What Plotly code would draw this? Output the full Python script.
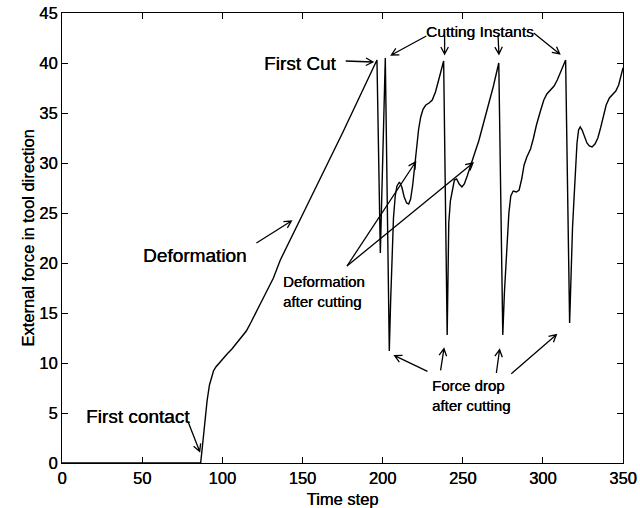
import math
import plotly.graph_objects as go

# Force record along the tool axis (time step vs. external force)
time_step = [0, 86.5, 87.5, 89, 90.5, 92, 93.3, 94.5, 96, 98, 100.5, 103, 106, 109, 112,
             115, 118, 121, 124, 131.9, 136.2, 152.7, 175, 196.5,
             198.6, 201.7,
             204.2, 205.0, 205.9, 206.8, 207.9, 209.0, 210.5, 212, 213.5, 215, 216.3,
             217.5, 218.8, 220.0, 221.2, 222.5, 223.8, 225.3, 227.0, 229, 231, 233,
             235, 236.7, 238.1,
             240.3, 240.8, 241.3, 242.3, 243.5, 244.8, 246.2, 247.8, 249.5, 251, 252.8,
             255, 257.5, 260, 263, 266, 269, 272.5,
             275.0, 276, 277.5, 278.8, 280, 281.5, 283.5, 285.2, 286.8, 288.3, 290,
             292.3, 294, 296, 298.5, 300.6, 302.5, 305, 307, 309, 311.5, 314.2,
             316.7, 317.6, 318.5, 319.4, 320.3, 321.3, 322.3, 323.3, 324.5, 326, 327.5,
             329, 330.7, 332.5, 334.3, 336, 337.8, 339.5, 341.5, 343.5, 345.5, 347.3,
             348.8, 350]
force = [0, 0, 1.5, 4.0, 6.2, 7.8, 8.7, 9.2, 9.6, 10.0, 10.5, 10.9, 11.4, 12.0, 12.5,
         13.2, 14.1, 15.0, 16.0, 18.5, 20.3, 25.7, 33.0, 40.3,
         21.0, 40.5,
         11.2, 16.0, 21.0, 24.5, 26.7, 27.7, 28.1, 27.6, 26.6, 26.0, 25.9,
         26.4, 27.8, 29.6, 31.6, 33.4, 34.6, 35.4, 35.8, 36.0, 36.3, 37.1,
         38.3, 39.4, 40.2,
         12.8, 19.0, 24.0, 26.2, 27.4, 28.3, 28.4, 27.9, 27.6, 27.9, 28.7,
         29.7, 31.0, 32.2, 34.0, 35.6, 37.6, 40.0,
         12.8, 17.0, 22.0, 25.0, 26.7, 27.2, 27.1, 27.3, 28.4, 29.8, 30.6,
         31.4, 32.4, 33.8, 35.2, 36.3, 36.9, 37.3, 37.7, 38.3, 39.2, 40.3,
         14.0, 19.5, 23.5, 26.3, 29.5, 32.0, 33.3, 33.6, 33.3, 32.6, 32.0,
         31.7, 31.6, 31.9, 32.5, 33.5, 34.8, 35.8, 36.5, 36.9, 37.2, 37.8,
         38.7, 39.5]

x_ticks = [0, 50, 100, 150, 200, 250, 300, 350]
y_ticks = [0, 5, 10, 15, 20, 25, 30, 35, 40, 45]

# Annotation arrows: (tail_x, tail_y, tip_x, tip_y)
arrows = [
    (177.0, 40.2, 194.0, 40.1),      # First Cut
    (227.3, 42.7, 205.5, 40.8),      # Cutting instants
    (238.7, 42.7, 238.7, 40.9),
    (272.0, 42.8, 272.6, 40.9),
    (294.3, 43.0, 310.5, 40.9),
    (121.3, 22.0, 143.1, 24.2),      # Deformation
    (177.8, 19.7, 220.6, 30.1),      # Deformation after cutting
    (177.8, 19.7, 256.4, 30.0),
    (228.0, 9.16, 207.5, 10.73),     # Force drop after cutting
    (236.2, 9.26, 238.3, 11.43),
    (271.0, 9.0, 273.0, 11.33),
    (280.3, 8.93, 308.4, 12.83),
    (78.6, 4.16, 85.9, 1.16),        # First contact
]

W, H = 640, 508
ML, MR, MT, MB = 62, 17, 13, 45
X_RANGE = (0, 350)
Y_RANGE = (0, 45)
sx = (W - ML - MR) / (X_RANGE[1] - X_RANGE[0])
sy = (H - MT - MB) / (Y_RANGE[1] - Y_RANGE[0])

FONT = "Liberation Sans, Arial, sans-serif"
INK = "0.35px 0px 0px black"   # slight thickening of the printed lettering


def font(size):
    return dict(family=FONT, size=size, color="black", shadow=INK)


def arrow_path(tx, ty, px, py, head=8.0, ang=28):
    # work in screen pixels so the open head keeps its shape
    dx = (tx - px) * sx
    dy = (ty - py) * sy
    d = math.hypot(dx, dy)
    ux, uy = dx / d, dy / d
    pts = []
    for s in (1, -1):
        a = math.radians(ang) * s
        rx = ux * math.cos(a) - uy * math.sin(a)
        ry = ux * math.sin(a) + uy * math.cos(a)
        pts.append((px + rx * head / sx, py + ry * head / sy))
    (h1x, h1y), (h2x, h2y) = pts
    return (f"M {tx},{ty} L {px},{py} M {h1x},{h1y} L {px},{py} L {h2x},{h2y}")


fig = go.Figure()
fig.add_trace(go.Scatter(x=time_step, y=force, mode="lines",
                         line=dict(color="black", width=1.4),
                         showlegend=False, hoverinfo="skip"))

shapes = [dict(type="path", path=arrow_path(*a), xref="x", yref="y",
               line=dict(color="black", width=1.3), layer="above") for a in arrows]

labels = [
    dict(text="First Cut", x=148.6, y=40.0, size=19, xanchor="center", align="center"),
    dict(text="Cutting Instants", x=261.0, y=43.2, size=15.5, xanchor="center", align="center"),
    dict(text="Deformation", x=82.8, y=20.8, size=19, xanchor="center", align="center"),
    dict(text="First contact", x=47.2, y=4.7, size=19, xanchor="center", align="center"),
    dict(text="Deformation<br>after cutting", x=136.5, y=17.2, size=15, xanchor="left", align="left"),
    dict(text="Force drop<br>after cutting", x=229.8, y=6.8, size=15, xanchor="left", align="left"),
]
annotations = [dict(text=l["text"], x=l["x"], y=l["y"], xref="x", yref="y",
                    showarrow=False, xanchor=l["xanchor"], yanchor="middle",
                    align=l["align"], font=font(l["size"]))
               for l in labels]

axis_common = dict(showline=True, linecolor="black", linewidth=1.2, mirror="ticks",
                   ticks="inside", ticklen=6, tickwidth=1, tickcolor="black",
                   showgrid=False, zeroline=False, automargin=False,
                   tickfont=font(16.5))

fig.update_layout(
    width=W, height=H,
    margin=dict(l=ML, r=MR, t=MT, b=MB, autoexpand=False),
    paper_bgcolor="white", plot_bgcolor="white",
    xaxis=dict(range=list(X_RANGE), tickvals=x_ticks,
               title=dict(text="Time step", standoff=7, font=font(16.5)),
               **axis_common),
    yaxis=dict(range=list(Y_RANGE), tickvals=y_ticks,
               title=dict(text="External force in tool direction", standoff=0,
                          font=font(16.5)),
               **axis_common),
    shapes=shapes,
    annotations=annotations,
)

fig.write_html("out.html")
